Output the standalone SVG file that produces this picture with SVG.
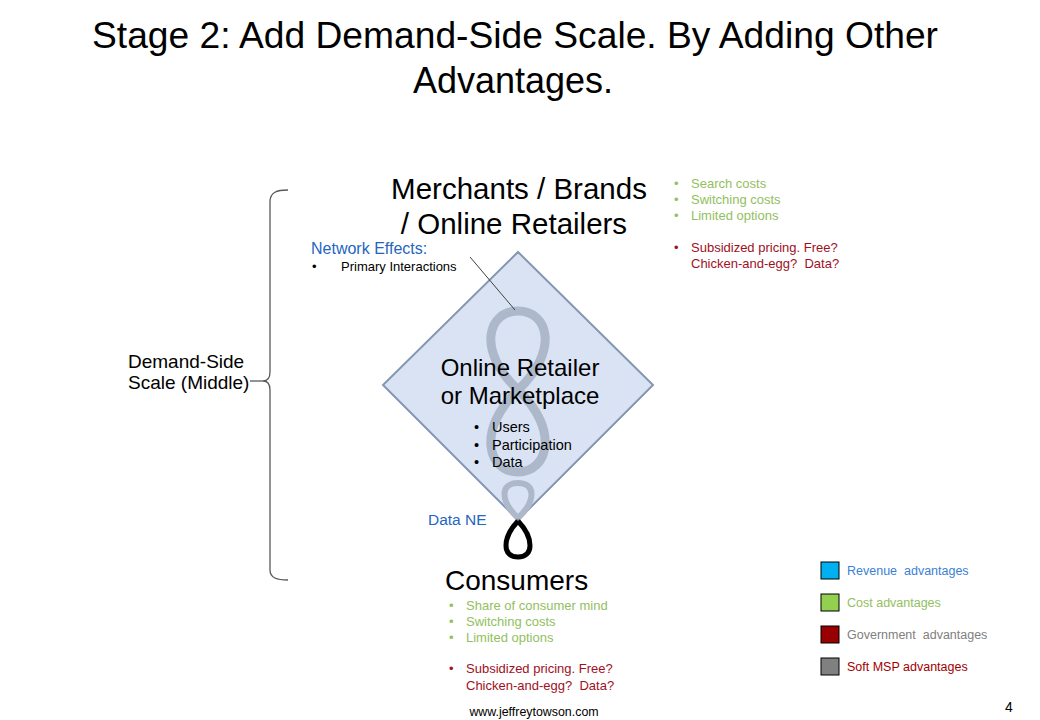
<svg xmlns="http://www.w3.org/2000/svg" width="1040" height="720" viewBox="0 0 1040 720">
<style>
text{font-family:"Liberation Sans",Arial,sans-serif;}
.t{font-size:36px;fill:#000;text-anchor:middle;}
.h{font-size:29.5px;fill:#000;}
.b{font-size:13px;}
.lg{font-size:12.5px;}
.g{fill:#92c060;}
.r{fill:#a0101e;}
.blue{fill:#2566c0;}
.sq{stroke:#000;stroke-width:1;}
</style>
<rect width="1040" height="720" fill="#fff"/>
<text class="t" x="515" y="48" textLength="846" lengthAdjust="spacingAndGlyphs">Stage 2: Add Demand-Side Scale. By Adding Other</text>
<text class="t" x="513" y="93">Advantages.</text>

<g id="brace">
<path d="M288,190 C277,190 270,192 270,202 L270,372 C270,378 267,381 263,381 C267,381 270,384 270,390 L270,570 C270,578 277,580 288,580" fill="none" stroke="#595959" stroke-width="1.3"/>
<line x1="250" y1="381" x2="263" y2="381" stroke="#595959" stroke-width="1.3"/>
<text x="128" y="368" font-size="19">Demand-Side</text>
<text x="128" y="389" font-size="19">Scale (Middle)</text>
</g>

<g id="merchants">
<text class="h" x="519" y="199" text-anchor="middle">Merchants / Brands</text>
<text class="h" x="514" y="234" text-anchor="middle">/ Online Retailers</text>
</g>

<g id="merchant-notes" class="b">
<text x="674" y="188" class="g">•</text><text x="691" y="188" class="g">Search costs</text>
<text x="674" y="204" class="g">•</text><text x="691" y="204" class="g">Switching costs</text>
<text x="674" y="220" class="g">•</text><text x="691" y="220" class="g">Limited options</text>
<text x="674" y="252" class="r">•</text><text x="691" y="252" class="r">Subsidized pricing. Free?</text>
<text x="691" y="268" class="r" xml:space="preserve">Chicken-and-egg?  Data?</text>
</g>

<g id="network-effects">
<text x="311" y="254" font-size="16" class="blue">Network Effects:</text>
<text x="312" y="271" font-size="13">•</text>
<text x="341" y="271" font-size="13">Primary Interactions</text>
</g>

<g id="marketplace">
<polygon points="518,252 653,385 518,520 383,385" fill="#dae3f3" stroke="#8497b0" stroke-width="2"/>
<path d="M518,390 C560,350 548,311 518,311 C488,311 476,350 518,390 C560,430 548,472 518,472 C488,472 476,430 518,390 Z" fill="none" stroke="#adb9ca" stroke-width="9"/>
<path d="M518,518 C537,500 535,483 518,483 C501,483 499,500 518,518" fill="none" stroke="#adb9ca" stroke-width="6"/>
<text x="520" y="376" font-size="24" text-anchor="middle">Online Retailer</text>
<text x="520" y="404" font-size="24" text-anchor="middle">or Marketplace</text>
<text x="474" y="432" font-size="14.5">•</text><text x="492" y="432" font-size="14.5">Users</text>
<text x="474" y="450" font-size="14.5">•</text><text x="492" y="450" font-size="14.5">Participation</text>
<text x="474" y="467" font-size="14.5">•</text><text x="492" y="467" font-size="14.5">Data</text>
</g>

<g id="connectors">
<line x1="470" y1="257" x2="515" y2="310" stroke="#404040" stroke-width="1"/>
</g>

<g id="data-ne">
<path d="M518,521 C502,538 502,557 518,557 C534,557 534,538 518,521" fill="none" stroke="#000" stroke-width="5"/>
<text x="428" y="525" font-size="15.5" class="blue">Data NE</text>
</g>

<g id="consumers">
<text x="445" y="590" font-size="28">Consumers</text>
</g>

<g id="consumer-notes" class="b">
<text x="449" y="610" class="g">•</text><text x="466" y="610" class="g">Share of consumer mind</text>
<text x="449" y="626" class="g">•</text><text x="466" y="626" class="g">Switching costs</text>
<text x="449" y="642" class="g">•</text><text x="466" y="642" class="g">Limited options</text>
<text x="449" y="673" class="r">•</text><text x="466" y="673" class="r">Subsidized pricing. Free?</text>
<text x="466" y="690" class="r" xml:space="preserve">Chicken-and-egg?  Data?</text>
</g>

<g id="legend" class="lg">
<rect class="sq" x="821" y="562" width="18" height="17" fill="#00b0f0"/>
<text x="847" y="575" fill="#3a7fd5" xml:space="preserve">Revenue  advantages</text>
<rect class="sq" x="821" y="594" width="18" height="17" fill="#92d050"/>
<text x="847" y="607" class="g">Cost advantages</text>
<rect class="sq" x="821" y="626" width="18" height="17" fill="#990000"/>
<text x="847" y="639" fill="#808080" xml:space="preserve">Government  advantages</text>
<rect class="sq" x="821" y="658" width="18" height="17" fill="#808080"/>
<text x="847" y="671" fill="#a00000">Soft MSP advantages</text>
</g>

<text x="1005" y="712" font-size="14">4</text>
<text x="534" y="716" font-size="12.4" text-anchor="middle">www.jeffreytowson.com</text>
</svg>
